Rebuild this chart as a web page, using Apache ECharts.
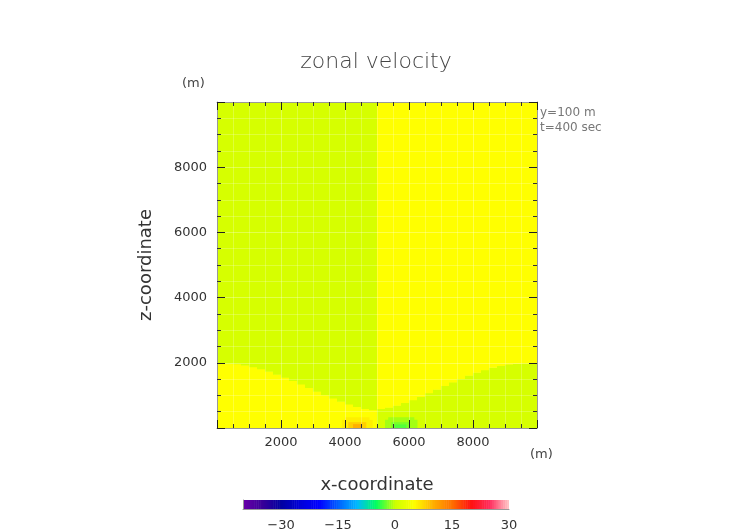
<!DOCTYPE html>
<html>
<head>
<meta charset="utf-8">
<script src="https://cdn.jsdelivr.net/npm/echarts@6/dist/echarts.min.js"></script>
<style>html,body{margin:0;background:#fff}#c{width:752px;height:532px}</style>
</head>
<body>
<div id="c"></div>
<script>
// column centres (m) and interface height between the two layers
var colX = [125,375,625,875,1125,1375,1625,1875,2125,2375,2625,2875,3125,3375,3625,3875,4125,4375,4625,4875,
  5125,5375,5625,5875,6125,6375,6625,6875,7125,7375,7625,7875,8125,8375,8625,8875,9125,9375,9625,9875];
var interfaceZ = [2000,1990,1970,1930,1880,1820,1740,1650,1560,1460,1350,1240,1130,1020,920,820,740,660,600,560,
  600,640,700,780,870,970,1080,1190,1300,1410,1520,1620,1710,1790,1860,1920,1960,1985,1995,2000];
// velocity below / above interface, per half (left, right)
var lowerU = [5, 1];
var upperU = [1, 5];
// small blobs near the ground: [x0, x1, z0, z1, u]
var blobs = [
  [3900, 4850, 0, 250, 6], [4000, 4750, 0, 330, 6], [4100, 4650, 0, 180, 8], [4250, 4500, 0, 120, 10],
  [5250, 6250, 0, 250, -1], [5350, 6150, 0, 330, -1], [5450, 6000, 0, 180, -2], [5550, 5900, 0, 110, -3]
];
var barTicks = [-30, -15, 0, 15, 30];
var colors = ['#6a00a8','#3a0098','#0000a0','#0000d8','#0000ff','#0060ff','#00b8ff','#00ff60',
  '#ccff00','#ffff00','#ffb000','#ff7000','#ff1010','#ff3060','#ffc8c8'];

var rects = [];
colX.forEach(function (x, i) {
  var h = x < 5000 ? 0 : 1;
  rects.push([x - 125, x + 125, 0, interfaceZ[i], lowerU[h]]);
  rects.push([x - 125, x + 125, interfaceZ[i], 10000, upperU[h]]);
});
blobs.forEach(function (b) { rects.push(b); });

var barRects = [];
for (var v = -40; v < 30; v += 0.5) barRects.push([v, v + 0.5, 0, 1, v + 0.25]);

function rectItem(params, api) {
  var p0 = api.coord([api.value(0), api.value(3)]);
  var p1 = api.coord([api.value(1), api.value(2)]);
  var r = echarts.graphic.clipRectByRect({x: p0[0], y: p0[1], width: p1[0] - p0[0] + 0.5, height: p1[1] - p0[1] + 0.5},
    {x: params.coordSys.x, y: params.coordSys.y, width: params.coordSys.width, height: params.coordSys.height});
  return r && {type: 'rect', shape: r, style: {fill: api.visual('color')}};
}

var chart = echarts.init(document.getElementById('c'));
var gray = '#444';
var font = 'DejaVu Sans';
var tick = {length: -8, lineStyle: {color: '#222'}};
var minor = {show: true, splitNumber: 4, length: -4, lineStyle: {color: '#333'}};
var frame = {onZero: false, lineStyle: {color: '#999'}};
function lbl(v) { return v === 0 || v === 10000 ? '' : v; }
chart.setOption({
  animation: false,
  title: {text: 'zonal velocity', left: 'center', top: 46,
    textStyle: {fontSize: 22, fontWeight: 'lighter', color: '#444', fontFamily: font}},
  graphic: [
    {type: 'text', left: 182, top: 77, style: {text: '(m)', fill: gray, font: '13px DejaVu Sans'}},
    {type: 'text', left: 530, top: 448, style: {text: '(m)', fill: gray, font: '13px DejaVu Sans'}},
    {type: 'text', left: 540, top: 105, style: {text: 'y=100 m\nt=400 sec', lineHeight: 15, fill: '#777', font: '12px DejaVu Sans'}}
  ],
  visualMap: {show: false, type: 'continuous', min: -40, max: 30, dimension: 4, seriesIndex: [0, 1], inRange: {color: colors}},
  grid: [
    {left: 217, right: 215, top: 102, bottom: 104, show: false},
    {left: 243, right: 243, top: 500, height: 12, show: false}
  ],
  xAxis: [
    {type: 'value', gridIndex: 0, min: 0, max: 10000, interval: 2000, z: 10, name: 'x-coordinate', nameLocation: 'middle', nameGap: 48,
      nameTextStyle: {fontSize: 18, color: '#333', fontFamily: font},
      axisLine: frame, axisTick: tick, minorTick: minor,
      splitLine: {show: true, lineStyle: {color: 'rgba(255,255,255,0.3)'}},
      minorSplitLine: {show: true, lineStyle: {color: 'rgba(255,255,255,0.22)'}},
      axisLabel: {color: '#333', fontSize: 13, margin: 8, fontFamily: font, formatter: lbl}},
    {type: 'value', gridIndex: 0, position: 'top', min: 0, max: 10000, interval: 2000, z: 10,
      axisLine: frame, axisTick: tick, minorTick: minor, axisLabel: {show: false}, splitLine: {show: false}},
    {type: 'value', gridIndex: 1, min: -40, max: 30,
      axisLine: frame, axisTick: {show: false}, splitLine: {show: false},
      axisLabel: {customValues: barTicks, color: '#333', fontSize: 13, margin: 10, fontFamily: font,
        formatter: function (v) { return v < 0 ? '\u2212' + (-v) : v; }}}
  ],
  yAxis: [
    {type: 'value', gridIndex: 0, min: 0, max: 10000, interval: 2000, z: 10, name: 'z-coordinate', nameLocation: 'middle', nameGap: 62,
      nameTextStyle: {fontSize: 18, color: '#333', fontFamily: font},
      axisLine: frame, axisTick: tick, minorTick: minor,
      splitLine: {show: true, lineStyle: {color: 'rgba(255,255,255,0.3)'}},
      minorSplitLine: {show: true, lineStyle: {color: 'rgba(255,255,255,0.22)'}},
      axisLabel: {color: '#333', fontSize: 13, margin: 10, fontFamily: font, formatter: lbl}},
    {type: 'value', gridIndex: 0, position: 'right', min: 0, max: 10000, interval: 2000, z: 10,
      axisLine: frame, axisTick: tick, minorTick: minor, axisLabel: {show: false}, splitLine: {show: false}},
    {type: 'value', gridIndex: 1, min: 0, max: 1, axisLine: {show: true, onZero: false, lineStyle: {color: '#999'}},
      axisTick: {show: false}, axisLabel: {show: false}, splitLine: {show: false}}
  ],
  series: [
    {type: 'custom', xAxisIndex: 0, yAxisIndex: 0, renderItem: rectItem, data: rects, z: 0},
    {type: 'custom', xAxisIndex: 2, yAxisIndex: 2, renderItem: rectItem, data: barRects, z: 0}
  ]
});
</script>
</body>
</html>
